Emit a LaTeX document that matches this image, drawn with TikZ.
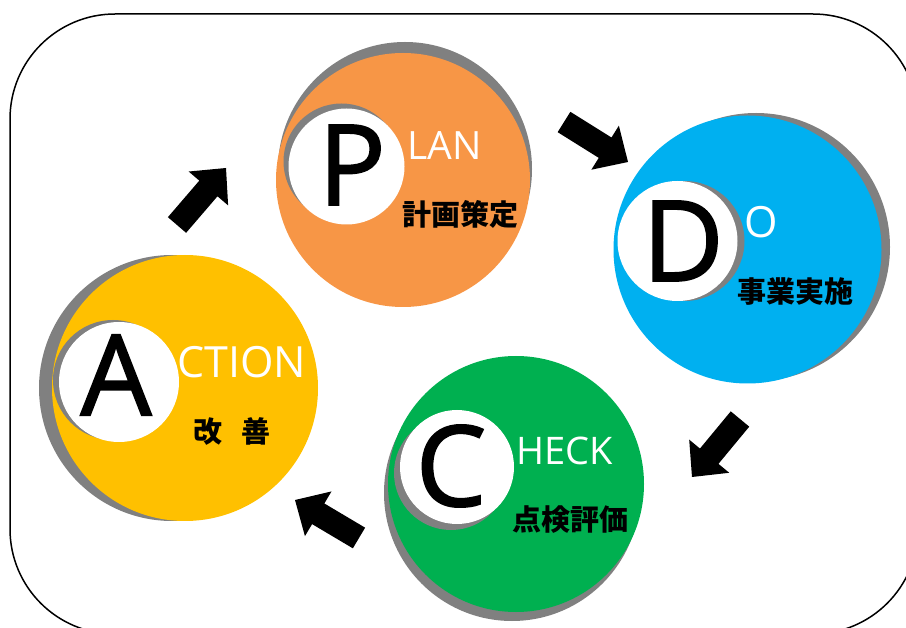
\documentclass[tikz,border=0pt]{standalone}
\usepackage{fontspec}
\setmainfont{Open Sans}
\newfontfamily\bigfont[FakeBold=1.6]{Open Sans}
\newfontfamily\cjk{Noto Sans CJK JP}
\usetikzlibrary{calc}
\definecolor{pOrange}{HTML}{F79646}
\definecolor{dBlue}{HTML}{00B0F0}
\definecolor{cGreen}{HTML}{00B050}
\definecolor{aYellow}{HTML}{FFC000}
\definecolor{shade}{HTML}{808080}
\tikzset{
  disc/.style={circle, inner sep=0pt, minimum size=#1},
  big/.style={font=\bigfont\fontsize{112}{112}\selectfont, inner sep=0pt, text=black},
  word/.style={font=\fontsize{#1}{#1}\selectfont, inner sep=0pt, text=white, anchor=base west},
  jp/.style={font=\cjk\bfseries\fontsize{29}{29}\selectfont, inner sep=0pt, text=black},
  frame/.style={line width=1.5pt, rounded corners=105pt},
}
\newcommand{\blockarrow}[3]{% name, tail, tip
  \coordinate (#1n) at ($(#3)!27pt!(#2)$);
  \fill[black] ($(#2)!12pt!90:(#3)$) -- ($(#1n)!12pt!90:(#3)$) -- ($(#1n)!26pt!90:(#3)$)
    -- (#3) -- ($(#1n)!26pt!-90:(#3)$) -- ($(#1n)!12pt!-90:(#3)$) -- ($(#2)!12pt!-90:(#3)$) -- cycle;
}
\begin{document}
\begin{tikzpicture}[x=1pt,y=-1pt]
\useasboundingbox (0,0) rectangle (906,628);
\clip (0,0) rectangle (906,628);
\draw[frame] (10,14) rectangle (918,634);

% PLAN
\node[disc=254, fill=shade] (Psh) at (405,169) {};
\node[disc=254, fill=pOrange] (Pc) at (403,180) {};
\node[disc=116, fill=shade] (Pwsh) at (341.5,161.5) {};
\node[disc=116, fill=white] (Pw) at (346.5,166.5) {};
\node[big] (Pl) at (352,165) {P};
\node[word=39] (Pt) at (407,160) {LAN};
\node[jp] (Pj) at (460,214) {計画策定};

% DO
\node[disc=268, fill=shade] (Dsh) at (756,247) {};
\node[disc=268, fill=dBlue] (Dc) at (747.5,249.5) {};
\node[disc=120, fill=shade] (Dwsh) at (684.5,241) {};
\node[disc=120, fill=white] (Dw) at (677.5,241) {};
\node[big] (Dl) at (683,241) {D};
\node[word=43] (Dt) at (744,238) {O};
\node[jp] (Dj) at (795,292) {事業実施};

% CHECK
\node[disc=256, fill=shade] (Csh) at (512,493) {};
\node[disc=256, fill=cGreen] (Cc) at (516,484) {};
\node[disc=114, fill=shade] (Cwsh) at (451,473) {};
\node[disc=114, fill=white] (Cw) at (457,467) {};
\node[big] (Cl) at (451,466) {C};
\node[word=38] (Ct) at (516,465) {HECK};
\node[jp] (Cj) at (570,520) {点検評価};

% ACTION
\node[disc=266, fill=shade] (Ash) at (172,388) {};
\node[disc=266, fill=aYellow] (Ac) at (185,388) {};
\node[disc=120, fill=shade] (Awsh) at (113,380) {};
\node[disc=120, fill=white] (Aw) at (119,382) {};
\node[big] (Al) at (116,375) {A};
\node[word=43] (At) at (177,378) {CTION};
\node[jp] (Aj) at (232,432) {改\hspace{20pt}善};

% arrows
\coordinate (a1t) at (177,225); \coordinate (a1h) at (226,168);
\coordinate (a2t) at (564,122); \coordinate (a2h) at (628,162);
\coordinate (a3t) at (740,419); \coordinate (a3h) at (692,477);
\coordinate (a4t) at (359,538); \coordinate (a4h) at (295,500);
\blockarrow{a1}{a1t}{a1h}
\blockarrow{a2}{a2t}{a2h}
\blockarrow{a3}{a3t}{a3h}
\blockarrow{a4}{a4t}{a4h}
\end{tikzpicture}
\end{document}
